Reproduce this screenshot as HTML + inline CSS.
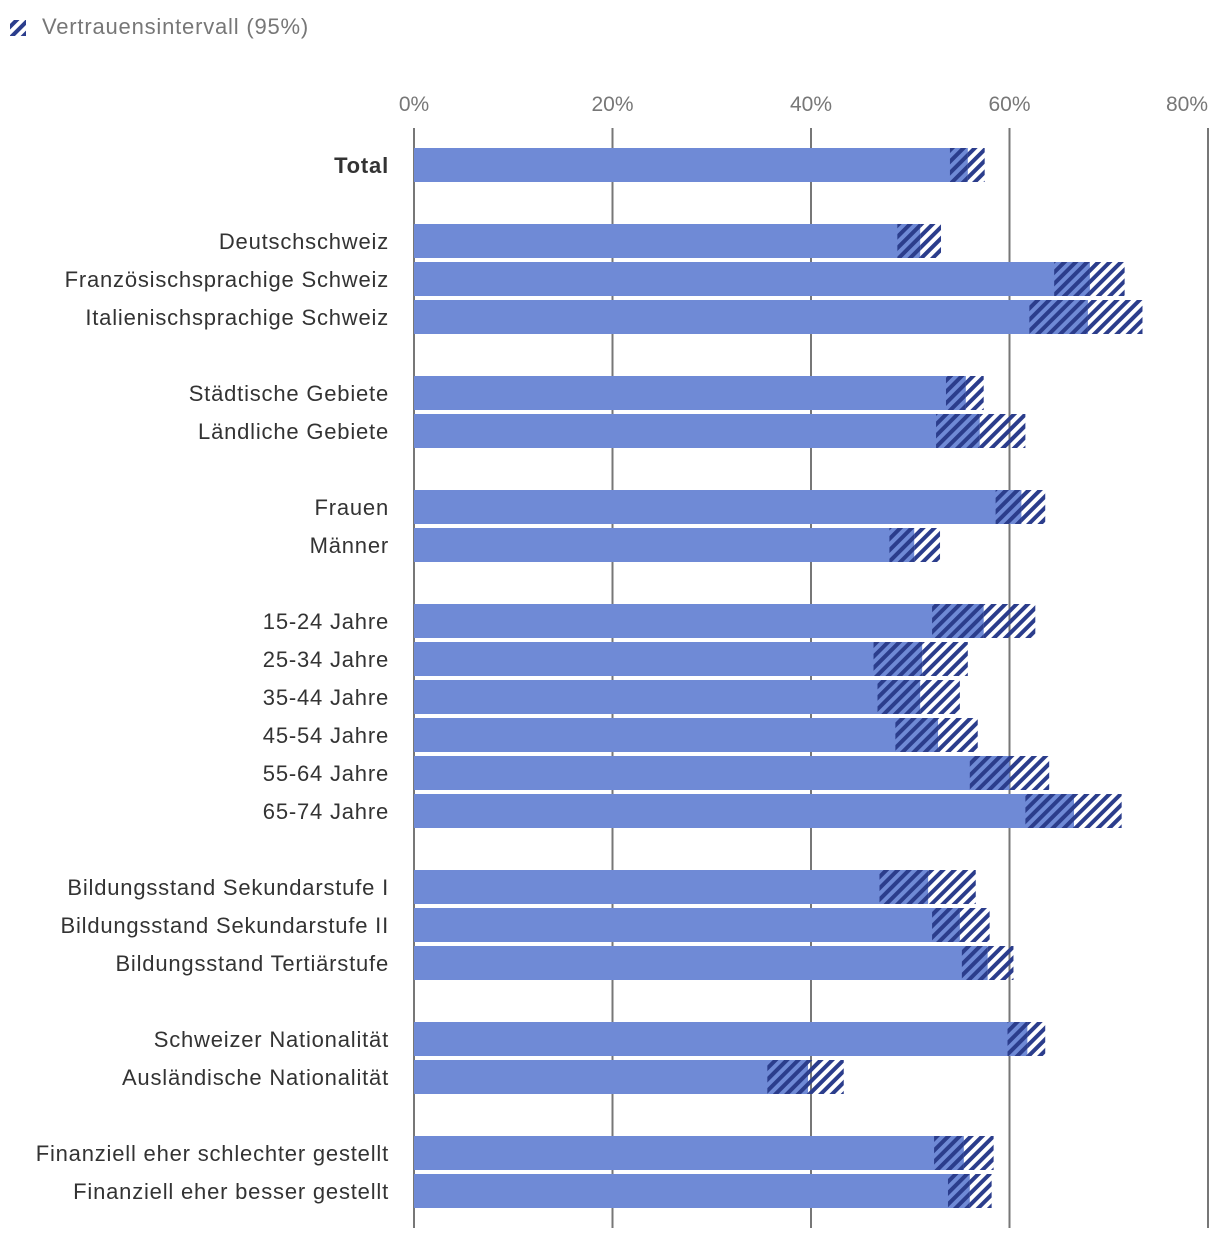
<!DOCTYPE html>
<html><head><meta charset="utf-8"><style>
body{margin:0;background:#fff;font-family:"Liberation Sans",sans-serif}
</style></head><body>
<svg id="chart" width="1220" height="1240" xmlns="http://www.w3.org/2000/svg">
<defs>
<pattern id="hatch" patternUnits="userSpaceOnUse" width="8" height="8" patternTransform="rotate(45)">
<rect x="0" y="0" width="4" height="8" fill="#2b3d8c"/>
</pattern>
</defs>
<g>
<rect x="10" y="20" width="16" height="16" fill="url(#hatch)"/>
<text x="42" y="34" font-size="22" letter-spacing="0.8" fill="#777">Vertrauensintervall (95%)</text>
</g>
<g id="grid"></g>
<g id="bars"></g>
<g id="labels"></g>
</svg>
<script>
const categories=["Total","Deutschschweiz","Französischsprachige Schweiz","Italienischsprachige Schweiz","Städtische Gebiete","Ländliche Gebiete","Frauen","Männer","15-24 Jahre","25-34 Jahre","35-44 Jahre","45-54 Jahre","55-64 Jahre","65-74 Jahre","Bildungsstand Sekundarstufe I","Bildungsstand Sekundarstufe II","Bildungsstand Tertiärstufe","Schweizer Nationalität","Ausländische Nationalität","Finanziell eher schlechter gestellt","Finanziell eher besser gestellt"];
const slots=[0,2,3,4,6,7,9,10,12,13,14,15,16,17,19,20,21,23,24,26,27];
const lower=[54.0,48.7,64.5,62.0,53.6,52.6,58.6,47.9,52.2,46.3,46.7,48.5,56.0,61.6,46.9,52.2,55.2,59.8,35.6,52.4,53.8];
const values=[55.8,51.0,68.1,67.9,55.6,57.0,61.2,50.4,57.4,51.2,51.0,52.8,60.0,66.5,51.8,55.0,57.8,61.8,39.7,55.4,56.0];
const upper=[57.5,53.1,71.6,73.4,57.4,61.6,63.6,53.0,62.6,55.8,55.0,56.8,64.0,71.3,56.6,58.0,60.4,63.6,43.3,58.4,58.2];
const ticks=[0,20,40,60,80];
const tickLabels=["0%","20%","40%","60%","80%"];
const NS="http://www.w3.org/2000/svg";
const x=v=>414+v*(1208-414)/80;
const yc=s=>165+38*s;
function mk(tag,attrs,parent){const e=document.createElementNS(NS,tag);for(const k in attrs)e.setAttribute(k,attrs[k]);parent.appendChild(e);return e;}
const grid=document.getElementById('grid'),bars=document.getElementById('bars'),labels=document.getElementById('labels');
ticks.forEach((t,i)=>{
 const l=mk('line',{x1:x(t),x2:x(t),y1:128,y2:1228,stroke:'#777','stroke-width':2},grid);
 
 
 const last=i===ticks.length-1;
 const tx=mk('text',{x:x(t),y:111,'font-size':21,fill:'#777','text-anchor':last?'end':'middle'},grid);
 tx.textContent=tickLabels[i];
 
 
});
categories.forEach((c,i)=>{
 const top=yc(slots[i])-17;
 const b=mk('rect',{x:x(0),y:top,width:x(values[i])-x(0),height:34,fill:'#6f8ad6'},bars);
 
 
 const h1=mk('rect',{x:x(lower[i]),y:top,width:x(values[i])-x(lower[i]),height:34,fill:'url(#hatch)'},bars);
 
 
 const h2=mk('rect',{x:x(values[i]),y:top,width:x(upper[i])-x(values[i]),height:34,fill:'url(#hatch)'},bars);
 
 
 const t=mk('text',{x:389,y:yc(slots[i])+8,'font-size':22,'letter-spacing':0.8,fill:'#333','text-anchor':'end','font-weight':i===0?'bold':'normal'},labels);
 t.textContent=c;
 
 
});
</script>
</body></html>
